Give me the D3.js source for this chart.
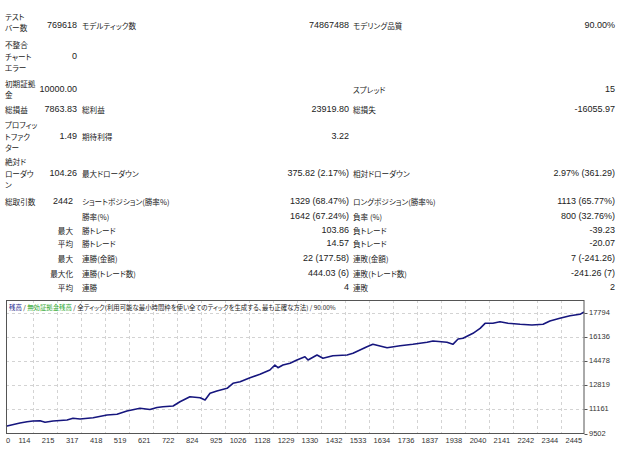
<!DOCTYPE html>
<html><head><meta charset="utf-8">
<script src="https://cdn.jsdelivr.net/npm/d3@7"></script>
<style>
body{margin:0;background:#fff}
.jp{font-family:"Noto Sans CJK JP",sans-serif;font-size:7.6px;font-feature-settings:"palt";fill:#222}
.num{font-family:"Liberation Sans",Arial,sans-serif;font-size:9px;fill:#222}
.ax{font-family:"Liberation Sans",Arial,sans-serif;font-size:7.5px;fill:#333}
</style></head>
<body><svg id="c" width="628" height="456"></svg>
<script>
// ---- report table data ----
const labelsA = [["テスト","バー数"],["不整合","チャート","エラー"],["初期証拠","金"],["総損益"],["プロフィッ","トファク","ター"],["絶対ド","ローダウ","ン"],["総取引数"],[],[],[],[],[],[]];
const valuesA = ["769618","0","10000.00","7863.83","1.49","104.26","2442","","最大","平均","最大","最大化","平均"];
const labelsB = ["モデルティック数","","","総利益","期待利得","最大ドローダウン","ショートポジション(勝率%)","勝率(%)","勝トレード","勝トレード","連勝(金額)","連勝(トレード数)","連勝"];
const valuesB = ["74867488","","","23919.80","3.22","375.82 (2.17%)","1329 (68.47%)","1642 (67.24%)","103.86","14.57","22 (177.58)","444.03 (6)","4"];
const labelsC = ["モデリング品質","","スプレッド","総損失","","相対ドローダウン","ロングポジション(勝率%)","負率 (%)","負トレード","負トレード","連敗(金額)","連敗(トレード数)","連敗"];
const valuesC = ["90.00%","","15","-16055.97","","2.97% (361.29)","1113 (65.77%)","800 (32.76%)","-39.23","-20.07","7 (-241.26)","-241.26 (7)","2"];

// ---- equity curve data ----
const tradeIdx = [0,59,89,114,144,165,199,258,283,313,368,427,469,511,566,608,638,663,706,735,777,820,841,862,891,934,959,989,1031,1073,1115,1136,1149,1170,1200,1229,1263,1276,1314,1339,1381,1441,1466,1525,1550,1610,1665,1719,1779,1804,1863,1888,1910,1931,1973,2003,2024,2057,2087,2121,2172,2222,2269,2298,2340,2383,2425,2442];
const balance = [10000,10224,10314,10362,10383,10273,10362,10431,10548,10500,10589,10775,10823,11050,11236,11153,11291,11346,11394,11690,12034,11965,11807,12268,12426,12612,12956,13066,13341,13575,13871,14215,14029,14215,14332,14559,14786,14559,14903,14676,14855,14903,15020,15474,15639,15405,15543,15639,15777,15866,15777,15639,16004,16052,16396,16740,17084,17084,17194,17084,17015,16967,17015,17242,17428,17607,17703,17864];
const xTickValues = [0,114,215,317,418,519,621,722,824,925,1026,1128,1229,1330,1432,1533,1634,1736,1837,1938,2040,2141,2242,2344,2445];
const yTickValues = [9502,11161,12819,14478,16136,17794];
const titleParts = [["残高","#1a1a8c"],[" / ","#222"],["無効証拠金残高","#2ea82e"],[" / 全ティック(利用可能な最小時間枠を使い全てのティックを生成する、最も正確な方法) / 90.00%","#222"]];

// ---- layout ----
const rowY = [25,56,89,109,136,173,201,216,230,243,258,273,287];
const labelCenter = [22,56,89,109,136,173,201,216,230,243,258,273,287];
const lineH = 11.3;

const svg = d3.select("#c");
const g = svg.append("g");

rowY.forEach((yy,i)=>{
  const lines = labelsA[i];
  lines.forEach((t,k)=>{
    g.append("text").attr("class","jp").attr("x",5)
     .attr("y",labelCenter[i]+(k-(lines.length-1)/2)*lineH)
     .attr("dominant-baseline","central").text(t);
  });
  const va = valuesA[i];
  if(va){
    const isJp = /[^\x00-\x7f]/.test(va);
    g.append("text").attr("class",isJp?"jp":"num").attr("x", i<6?77:73).attr("y",yy)
     .attr("text-anchor","end").attr("dominant-baseline","central").text(va);
  }
  if(labelsB[i]) g.append("text").attr("class","jp").attr("x",82).attr("y",yy).attr("dominant-baseline","central").text(labelsB[i]);
  if(valuesB[i]) g.append("text").attr("class","num").attr("x",349).attr("y",yy).attr("text-anchor","end").attr("dominant-baseline","central").text(valuesB[i]);
  if(labelsC[i]) g.append("text").attr("class","jp").attr("x",353).attr("y",yy).attr("dominant-baseline","central").text(labelsC[i]);
  if(valuesC[i]) g.append("text").attr("class","num").attr("x",615).attr("y",yy).attr("text-anchor","end").attr("dominant-baseline","central").text(valuesC[i]);
});

// ---- chart ----
const L=6, R=584.5, T=300, B=434;
const x = d3.scaleLinear().domain([0,2442]).range([6,584]);
const y = d3.scaleLinear().domain([9502,17794]).range([433.5,313]);

svg.append("rect").attr("x",L).attr("y",T).attr("width",R-L).attr("height",B-T).attr("fill","#fff");

const grid = svg.append("g").attr("stroke","#c8c8c8").attr("stroke-width",0.8).attr("stroke-dasharray","3,3");
xTickValues.slice(1).forEach(v=>{
  const xx = Math.round(x(v))+0.5;
  if(xx<R-1) grid.append("line").attr("x1",xx).attr("x2",xx).attr("y1",T).attr("y2",B);
});
yTickValues.slice(1).forEach(v=>{
  const yy = Math.round(y(v))+0.5;
  grid.append("line").attr("x1",L).attr("x2",R).attr("y1",yy).attr("y2",yy);
});

// title
const tt = svg.append("text").attr("x",9).attr("y",306.5).attr("dominant-baseline","central")
  .style("font-family","\"Noto Sans CJK JP\",sans-serif").style("font-size","6.4px").style("font-feature-settings","\"palt\"");
titleParts.forEach(p=>tt.append("tspan").attr("fill",p[1]).text(p[0]));

// equity line
const line = d3.line().x((d,i)=>x(tradeIdx[i])).y(d=>y(d));
svg.append("path").datum(balance).attr("d",line).attr("fill","none")
  .attr("stroke","#16167e").attr("stroke-width",1.6).attr("stroke-linejoin","round");

// frame
svg.append("rect").attr("x",L+0.5).attr("y",T+0.5).attr("width",R-L-1).attr("height",B-T-1)
  .attr("fill","none").attr("stroke","#555").attr("stroke-width",1);

// axes labels
const xa = svg.append("g");
xTickValues.forEach((v,i)=>{
  xa.append("text").attr("class","ax").attr("x", i===0? x(v) : x(v)-2.5).attr("y",440)
    .attr("text-anchor", i===0?"start":"end").attr("dominant-baseline","central").text(v);
});
const ya = svg.append("g");
yTickValues.forEach(v=>{
  const yy = Math.round(y(v))+0.5;
  ya.append("line").attr("x1",R).attr("x2",R+3).attr("y1",yy).attr("y2",yy).attr("stroke","#555");
  ya.append("text").attr("class","ax").attr("x",589).attr("y",y(v)-0.5).attr("dominant-baseline","central").text(v);
});
</script>
</body></html>
